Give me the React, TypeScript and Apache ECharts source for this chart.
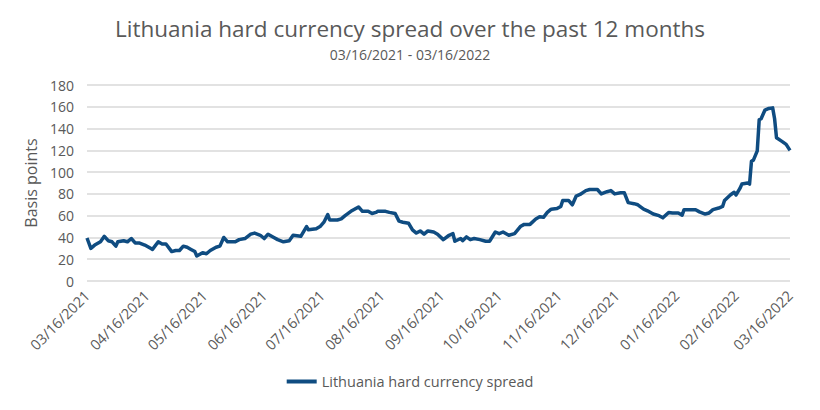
import React, { useEffect, useRef } from "react";
import * as echarts from "echarts";

const TITLE = "Lithuania hard currency spread over the past 12 months";
const SUBTITLE = "03/16/2021 - 03/16/2022";
const SERIES_NAME = "Lithuania hard currency spread";

const DATES = [
    "2021-03-16", "2021-03-18", "2021-03-20", "2021-03-23", "2021-03-25", "2021-03-27", "2021-03-29", "2021-03-31",
    "2021-04-01", "2021-04-04", "2021-04-06", "2021-04-08", "2021-04-10", "2021-04-12", "2021-04-15", "2021-04-18",
    "2021-04-19", "2021-04-22", "2021-04-24", "2021-04-26", "2021-04-29", "2021-05-01", "2021-05-03", "2021-05-05",
    "2021-05-07", "2021-05-09", "2021-05-11", "2021-05-12", "2021-05-15", "2021-05-17", "2021-05-19", "2021-05-22",
    "2021-05-24", "2021-05-26", "2021-05-28", "2021-06-01", "2021-06-03", "2021-06-06", "2021-06-09", "2021-06-11",
    "2021-06-14", "2021-06-16", "2021-06-18", "2021-06-21", "2021-06-23", "2021-06-26", "2021-06-29", "2021-07-01",
    "2021-07-05", "2021-07-08", "2021-07-09", "2021-07-13", "2021-07-15", "2021-07-17", "2021-07-19", "2021-07-20",
    "2021-07-24", "2021-07-26", "2021-07-28", "2021-07-31", "2021-08-04", "2021-08-06", "2021-08-09", "2021-08-11",
    "2021-08-13", "2021-08-14", "2021-08-18", "2021-08-20", "2021-08-23", "2021-08-25", "2021-08-27", "2021-08-30",
    "2021-09-01", "2021-09-03", "2021-09-05", "2021-09-07", "2021-09-09", "2021-09-12", "2021-09-14", "2021-09-17",
    "2021-09-20", "2021-09-22", "2021-09-23", "2021-09-26", "2021-09-27", "2021-09-29", "2021-10-01", "2021-10-03",
    "2021-10-06", "2021-10-09", "2021-10-11", "2021-10-14", "2021-10-16", "2021-10-18", "2021-10-21", "2021-10-24",
    "2021-10-27", "2021-10-29", "2021-11-01", "2021-11-04", "2021-11-06", "2021-11-08", "2021-11-10", "2021-11-12",
    "2021-11-15", "2021-11-17", "2021-11-18", "2021-11-21", "2021-11-23", "2021-11-25", "2021-11-27", "2021-11-30",
    "2021-12-02", "2021-12-05", "2021-12-06", "2021-12-08", "2021-12-11", "2021-12-13", "2021-12-15", "2021-12-18",
    "2021-12-20", "2021-12-22", "2021-12-25", "2021-12-27", "2021-12-30", "2022-01-01", "2022-01-04", "2022-01-07",
    "2022-01-09", "2022-01-12", "2022-01-14", "2022-01-17", "2022-01-19", "2022-01-20", "2022-01-23", "2022-01-26",
    "2022-01-28", "2022-01-31", "2022-02-02", "2022-02-04", "2022-02-07", "2022-02-09", "2022-02-10", "2022-02-13",
    "2022-02-15", "2022-02-16", "2022-02-18", "2022-02-19", "2022-02-22", "2022-02-23", "2022-02-24", "2022-02-25",
    "2022-02-27", "2022-02-28", "2022-03-01", "2022-03-03", "2022-03-05", "2022-03-07", "2022-03-08", "2022-03-09",
    "2022-03-12", "2022-03-14", "2022-03-16",
];

const SPREAD = [
    39.5, 30, 33, 36, 41, 37, 36, 32,
    36, 37, 36, 39, 35, 35, 33, 30,
    29, 36, 34, 34, 27, 28, 28, 32,
    31, 29, 27, 23, 26, 25, 28, 31,
    32, 40, 36, 36, 38, 39, 43, 44,
    42, 39, 43, 40, 38, 36, 37, 42,
    41, 50, 47, 48, 50, 54, 61, 56,
    56, 57, 60, 64, 68, 64, 64, 62,
    63, 64, 64, 63, 62, 55, 54, 53,
    47, 44, 46, 43, 46, 45, 43, 38,
    42, 43.5, 36.5, 39, 37, 40.5, 38, 39,
    38, 36.5, 36.5, 45, 43.5, 45, 42, 43.5,
    50, 52, 52, 57, 59, 58.5, 63, 66,
    66.5, 68.5, 74, 74, 70, 78, 79.5, 83,
    84, 84, 84, 80, 82, 83, 80, 81,
    81, 72, 71, 70, 66, 64.5, 61.5, 60,
    58, 63, 62.5, 62.5, 60.5, 65.5, 65.5, 65.5,
    63.5, 61.5, 62.5, 65.5, 67, 68.5, 74, 79,
    81.5, 79, 85, 89, 90, 89, 110, 111,
    119.5, 148, 149, 157, 158.5, 159, 149, 131.5,
    128, 125.5, 120,
];

// x-axis labels sit on the 16th of each month
const TICK_DATES = [
    "2021-03-16", "2021-04-16", "2021-05-16", "2021-06-16", "2021-07-16", "2021-08-16", "2021-09-16",
    "2021-10-16", "2021-11-16", "2021-12-16", "2022-01-16", "2022-02-16", "2022-03-16",
];

const Y_MIN = 0;
const Y_MAX = 180;
const Y_STEP = 20;

const TEXT = "#595959";
const LINE = "#0f4c81";
const FONT = "Open Sans";

const toTime = (s: string) => {
    const [y, m, d] = s.split("-").map(Number);
    return new Date(y, m - 1, d).getTime();
};
const pad = (n: number) => (n < 10 ? "0" + n : String(n));
const fmtDate = (v: number) => {
    const d = new Date(v);
    return `${pad(d.getMonth() + 1)}/${pad(d.getDate())}/${d.getFullYear()}`;
};

export default function App() {
    const ref = useRef<HTMLDivElement | null>(null);

    useEffect(() => {
        document.body.style.margin = "0";
        if (!ref.current) return;
        const inst = echarts.init(ref.current, undefined, { renderer: "svg" });

        const seriesData = DATES.map((d, i) => [toTime(d), SPREAD[i]]);
        const ticks = TICK_DATES.map(toTime);

        const option: any = {
            animation: false,
            textStyle: { fontFamily: FONT },
            title: {
                text: TITLE,
                subtext: SUBTITLE,
                left: "center",
                top: 12,
                itemGap: 7,
                textStyle: { fontFamily: FONT, fontSize: 22.5, fontWeight: "normal", color: TEXT },
                subtextStyle: { fontFamily: FONT, fontSize: 14, color: TEXT },
            },
            legend: {
                bottom: 16,
                left: "center",
                icon: "rect",
                itemWidth: 30,
                itemHeight: 4,
                itemGap: 4,
                textStyle: { fontFamily: FONT, fontSize: 14.5, color: TEXT },
                data: [SERIES_NAME],
            },
            grid: { left: 87, right: 30, top: 85, bottom: 129, containLabel: false },
            xAxis: {
                type: "value",
                min: ticks[0],
                max: ticks[ticks.length - 1],
                axisLine: { show: false },
                axisTick: { show: false },
                splitLine: { show: false },
                axisLabel: {
                    customValues: ticks,
                    rotate: 45,
                    fontFamily: FONT,
                    fontSize: 14.5,
                    color: TEXT,
                    margin: 12,
                    hideOverlap: false,
                    showMinLabel: true,
                    showMaxLabel: true,
                    formatter: (v: number) => fmtDate(v),
                },
            },
            yAxis: {
                type: "value",
                min: Y_MIN,
                max: Y_MAX,
                interval: Y_STEP,
                name: "Basis points",
                nameLocation: "middle",
                nameGap: 48,
                nameTextStyle: { fontFamily: FONT, fontSize: 16, color: TEXT },
                axisLine: { show: false },
                axisTick: { show: false },
                axisLabel: { fontFamily: FONT, fontSize: 14, color: TEXT, margin: 13 },
                splitLine: { lineStyle: { color: "#d9d9d9", width: 1.5 } },
            },
            series: [
                {
                    name: SERIES_NAME,
                    type: "line",
                    data: seriesData,
                    showSymbol: false,
                    symbol: "none",
                    color: LINE,
                    lineStyle: { color: LINE, width: 3.5, join: "round" },
                },
            ],
        };

        inst.setOption(option);
        return () => {
            inst.dispose();
        };
    }, []);

    return <div ref={ref} style={{ width: 820, height: 410 }} />;
}
